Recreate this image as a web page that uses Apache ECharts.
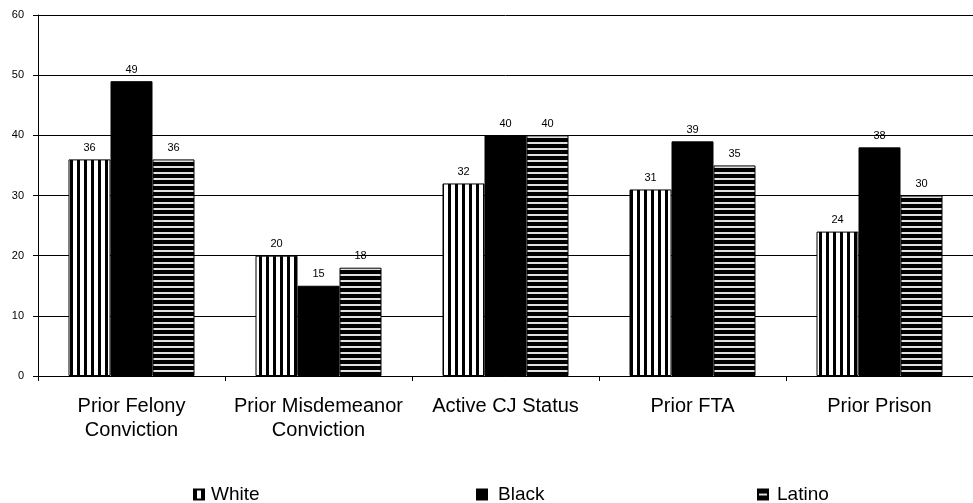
<!DOCTYPE html>
<html>
<head>
<meta charset="utf-8">
<script src="https://cdn.jsdelivr.net/npm/echarts@6/dist/echarts.min.js"></script>
<style>
  html, body { margin: 0; padding: 0; background: #fff; }
  #chart { width: 973px; height: 503px; }
</style>
</head>
<body>
<div id="chart"></div>
<script>
// Categories and per-group percentages
const categories = ['Prior Felony\nConviction', 'Prior Misdemeanor\nConviction', 'Active CJ Status', 'Prior FTA', 'Prior Prison'];
const whiteValues = [36, 20, 32, 31, 24];
const blackValues = [49, 15, 40, 39, 38];
const latinoValues = [36, 18, 40, 35, 30];
const yTicks = [0, 10, 20, 30, 40, 50, 60];

// Vertical stripe fill
function verticalStripes() {
  const c = document.createElement('canvas');
  c.width = 7; c.height = 7;
  const g = c.getContext('2d');
  g.fillStyle = '#fff'; g.fillRect(0, 0, 7, 7);
  g.fillStyle = '#000'; g.fillRect(0, 0, 3, 7);
  return { image: c, repeat: 'repeat' };
}
// Horizontal stripe fill
function horizontalStripes() {
  const c = document.createElement('canvas');
  c.width = 6; c.height = 6;
  const g = c.getContext('2d');
  g.fillStyle = '#000'; g.fillRect(0, 0, 6, 6);
  g.fillStyle = '#e0e0e0'; g.fillRect(0, 4, 6, 2);
  return { image: c, repeat: 'repeat' };
}

const FONT = 'Liberation Sans, Arial, sans-serif';
const chart = echarts.init(document.getElementById('chart'), null, { renderer: 'canvas' });

const labelStyle = { show: true, position: 'top', distance: 6, color: '#000', fontSize: 11, fontFamily: FONT };

// One legend block per series so each entry can sit at its own spot
function legendAt(name, left, textPad) {
  return {
    data: [{ name: name, icon: 'rect' }], left: left, top: 480, itemWidth: 10, itemHeight: 10,
    textStyle: { fontSize: 19, fontFamily: FONT, color: '#000', padding: [0, 0, 0, textPad] },
    selectedMode: false
  };
}

chart.setOption({
  animation: false,
  backgroundColor: '#fff',
  grid: { left: 38, top: 15, width: 942, height: 361 },
  legend: [legendAt('White', 188, 2), legendAt('Black', 471, 6), legendAt('Latino', 752, 4)],
  xAxis: {
    type: 'category',
    data: categories,
    axisLine: { lineStyle: { color: '#000', width: 1 } },
    axisTick: { show: true, length: 5, lineStyle: { color: '#000' } },
    axisLabel: { color: '#000', fontSize: 20, fontFamily: FONT, lineHeight: 24, margin: 18, interval: 0 }
  },
  yAxis: {
    type: 'value', min: 0, max: 60, interval: 10,
    axisLine: { show: true, lineStyle: { color: '#000', width: 1 } },
    axisTick: { show: true, length: 5, lineStyle: { color: '#000' } },
    axisLabel: { color: '#000', fontSize: 11, fontFamily: FONT, margin: 14,
      formatter: v => (yTicks.indexOf(v) >= 0 ? String(v) : '') },
    splitLine: { show: true, lineStyle: { color: '#000', width: 1 } }
  },
  series: [
    { name: 'White', type: 'bar', data: whiteValues, barWidth: 42, barGap: '0%',
      itemStyle: { color: verticalStripes(), borderColor: '#000', borderWidth: 1 }, label: labelStyle },
    { name: 'Black', type: 'bar', data: blackValues, barWidth: 42, barGap: '0%',
      itemStyle: { color: '#000', borderColor: '#000', borderWidth: 1 }, label: labelStyle },
    { name: 'Latino', type: 'bar', data: latinoValues, barWidth: 42, barGap: '0%',
      itemStyle: { color: horizontalStripes(), borderColor: '#000', borderWidth: 1 }, label: labelStyle }
  ]
});
</script>
</body>
</html>
